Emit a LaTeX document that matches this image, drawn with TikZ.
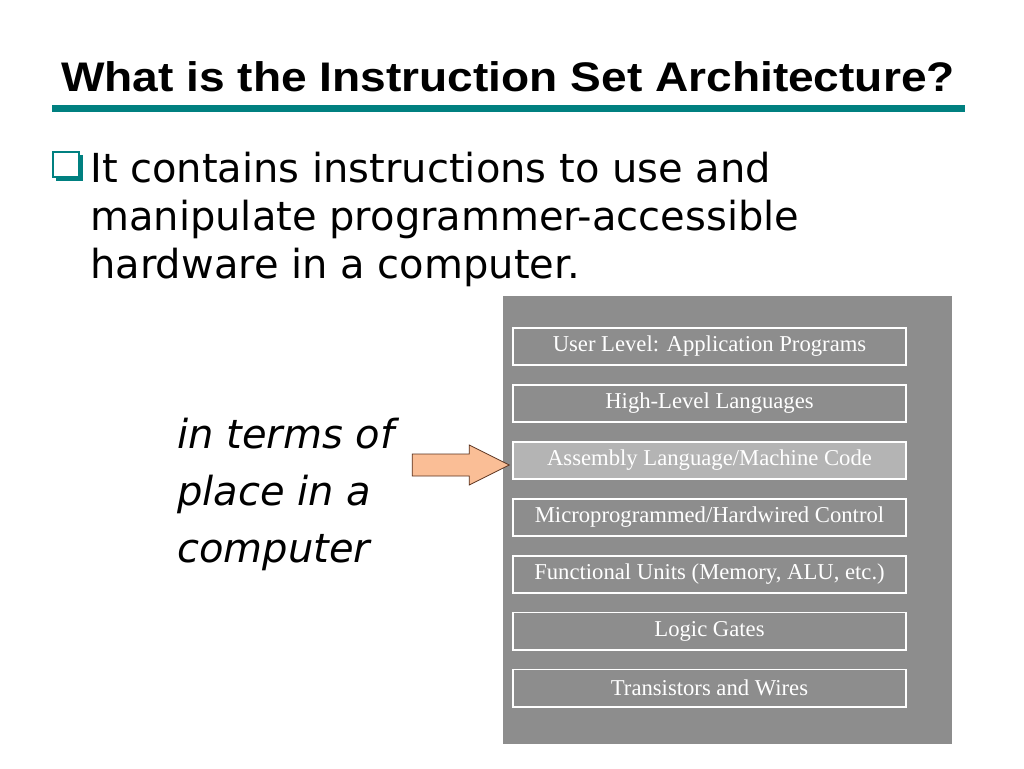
\documentclass[tikz,border=0pt]{standalone}
\usepackage{fontspec}
\usepackage{graphicx}
\setmainfont{Liberation Serif}
\newfontfamily\titlefont{Liberation Sans}
\newfontfamily\bodyfont{DejaVu Sans}
\usetikzlibrary{positioning}
\definecolor{slideteal}{RGB}{0,128,128}
\definecolor{panelgray}{RGB}{141,141,141}
\definecolor{asmgray}{RGB}{180,180,180}
\definecolor{arrowfill}{RGB}{250,190,150}
\definecolor{arrowline}{RGB}{90,50,30}

\tikzset{
  layer/.style={draw=white, line width=1.4pt, minimum width=295pt, minimum height=28pt,
    inner sep=0pt, text=white, font=\fontsize{17}{17}\selectfont},
  bodyline/.style={anchor=base west, inner sep=0pt, font=\bodyfont\fontsize{30}{30}\selectfont},
  sideline/.style={anchor=base west, inner sep=0pt, font=\bodyfont\itshape\fontsize{30}{30}\selectfont},
  fatarrow/.style={draw=arrowline, line width=0.6pt, fill=arrowfill, line join=miter}
}

\begin{document}
\begin{tikzpicture}[x=0.75pt, y=-0.75pt]
  \useasboundingbox (0,0) rectangle (1024,768);
  \fill[white] (0,0) rectangle (1024,768);

  % title and rule
  \node[anchor=base, inner sep=0pt, font=\titlefont\bfseries\fontsize{31}{31}\selectfont] (title) at (508,91)
    {\scalebox{1.115}[1]{What is the Instruction Set Architecture?}};
  \fill[slideteal] (52,105) rectangle (965,112);

  % bullet
  \fill[slideteal] (56,155) rectangle (83,181);
  \draw[slideteal, fill=white, line width=0.8pt] (53,152) rectangle (79,177);
  \node[bodyline] (l1) at (90,182) {It contains instructions to use and};
  \node[bodyline] (l2) at (90,230) {manipulate programmer-accessible};
  \node[bodyline] (l3) at (90,278) {hardware in a computer.};

  % panel with the levels
  \fill[panelgray] (503,296) rectangle (952,744);
  \node[layer] (user) at (709.5,346.5) {User Level: Application Programs};
  \node[layer, below=13.3pt of user] (hll) {High-Level Languages};
  \node[layer, fill=asmgray, below=13.3pt of hll] (asm) {Assembly Language/Machine Code};
  \node[layer, below=13.3pt of asm] (micro) {Microprogrammed/Hardwired Control};
  \node[layer, below=13.3pt of micro] (func) {Functional Units (Memory, ALU, etc.)};
  \node[layer, below=13.3pt of func] (gates) {Logic Gates};
  \node[layer, below=13.3pt of gates] (trans) {Transistors and Wires};

  % side text and arrow
  \node[sideline] (s1) at (177,448) {in terms of};
  \node[sideline] (s2) at (177,505) {place in a};
  \node[sideline] (s3) at (177,562) {computer};
  \draw[fatarrow] ([xshift=-2pt,yshift=-3.5pt]asm.west) -- ++(-40,-20) -- ++(0,9) -- ++(-57,0) -- ++(0,22)
    -- ++(57,0) -- ++(0,9) -- cycle;
\end{tikzpicture}
\end{document}
